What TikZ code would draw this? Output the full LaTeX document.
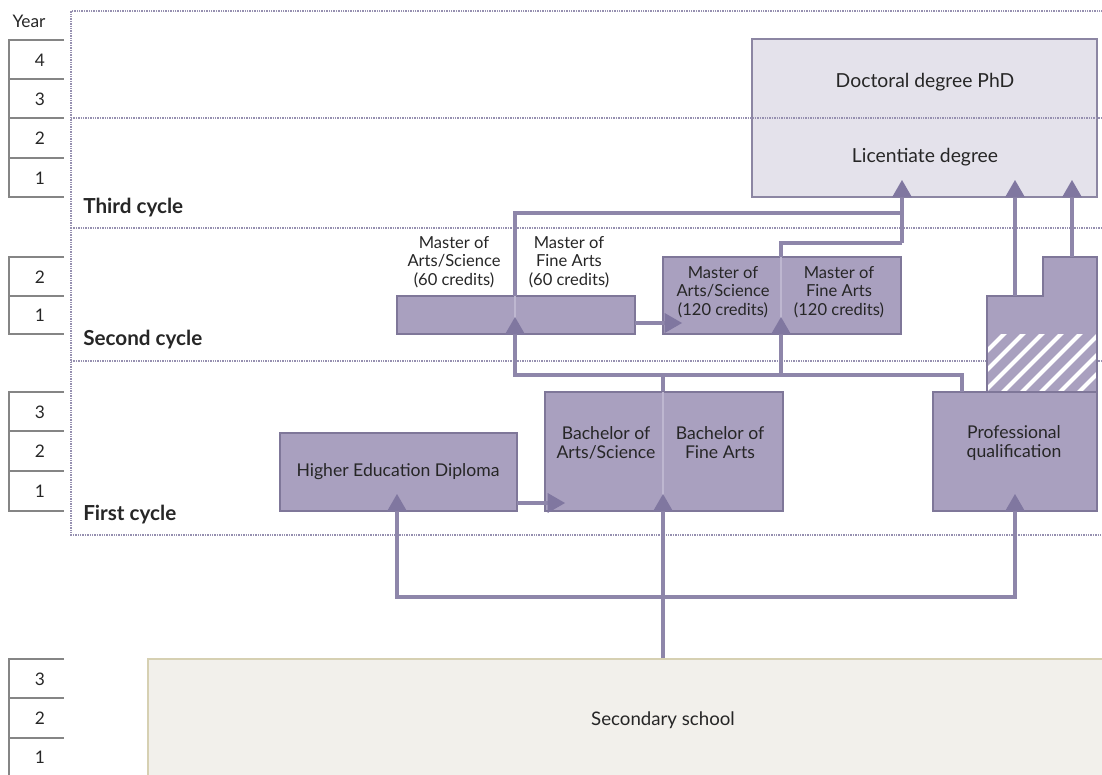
\documentclass[tikz,border=0pt]{standalone}
\usepackage{fontspec}
\setmainfont{Lato}
\usetikzlibrary{arrows.meta,fit}
\definecolor{boxfill}{HTML}{A9A0BF}
\definecolor{boxline}{HTML}{7F7799}
\definecolor{docfill}{HTML}{E4E2EB}
\definecolor{docline}{HTML}{8C86A3}
\definecolor{connc}{HTML}{8E86AA}
\definecolor{tipc}{HTML}{8077A0}
\definecolor{secfill}{HTML}{F2F0EB}
\definecolor{secline}{HTML}{D6D0B2}
\definecolor{framec}{HTML}{9690B0}
\definecolor{yearc}{HTML}{858585}
\definecolor{txt}{HTML}{262626}
\definecolor{divc}{HTML}{BEB7D0}
\tikzset{
  pbox/.style={draw=boxline, fill=boxfill, line width=1.3pt, inner sep=0pt},
  dbox/.style={draw=docline, fill=docfill, line width=1.3pt, inner sep=0pt},
  sbox/.style={draw=secline, fill=secfill, line width=1.3pt, inner sep=0pt},
  lab/.style={text=txt, font=\fontsize{13.2}{14.2}\selectfont, align=center, inner sep=0pt},
  mlab/.style={lab, font=\fontsize{12.4}{13.9}\selectfont},
  cyc/.style={text=txt, font=\fontsize{15.5}{17}\selectfont\bfseries, anchor=west, inner sep=0pt},
  yr/.style={text=txt, font=\fontsize{13}{15}\selectfont, inner sep=0pt},
  cl/.style={draw=connc, line width=2.4pt},
  arr/.style={cl, -{Triangle[length=13pt,width=15pt,color=tipc,line width=0pt]}},
  dotl/.style={draw=framec, line width=1.5pt, dash pattern=on 1pt off 0.8pt},
  yline/.style={draw=yearc, line width=1.4pt},
  divl/.style={draw=divc, line width=0.8pt}
}
\begin{document}
\begin{tikzpicture}[x=0.75pt,y=-0.75pt]
\useasboundingbox (0,0) rectangle (1102,774);
\clip (0,0) rectangle (1102,774);

% year columns
\node[yr] (year) at (29,21) {Year};
\draw[yline] (64,40) -- (9,40) -- (9,197) -- (64,197);
\foreach \y in {79,118,158} \draw[yline] (9,\y) -- (64,\y);
\node[yr] (y4) at (40,60) {4};
\node[yr] (y3) at (40,99) {3};
\node[yr] (y2) at (40,138) {2};
\node[yr] (y1) at (40,178) {1};
\draw[yline] (64,257) -- (9,257) -- (9,334) -- (64,334);
\draw[yline] (9,296) -- (64,296);
\node[yr] (s2) at (40,277) {2};
\node[yr] (s1) at (40,315) {1};
\draw[yline] (64,392) -- (9,392) -- (9,511) -- (64,511);
\foreach \y in {431,471} \draw[yline] (9,\y) -- (64,\y);
\node[yr] (f3) at (40,412) {3};
\node[yr] (f2) at (40,451) {2};
\node[yr] (f1) at (40,491) {1};
\draw[yline] (64,659) -- (9,659) -- (9,790);
\foreach \y in {698,738} \draw[yline] (9,\y) -- (64,\y);
\node[yr] (h3) at (40,679) {3};
\node[yr] (h2) at (40,718) {2};
\node[yr] (h1) at (40,757) {1};

% doctoral box
\node[dbox, fit={(752,39)(1097,197)}] (doc) {};
\node[lab, font=\fontsize{14.5}{16}\selectfont] (phd) at (925,82) {Doctoral degree PhD};
\node[lab, font=\fontsize{14.5}{16}\selectfont] (lic) at (925,157) {Licentiate degree};

% frame
\draw[dotl] (1110,11) -- (71,11) -- (71,535) -- (1110,535);
\foreach \y in {118,228,361} \draw[dotl] (71,\y) -- (1110,\y);

\node[cyc] (third) at (83,208) {Third cycle};
\node[cyc] (second) at (83,340) {Second cycle};
\node[cyc] (first) at (83,515) {First cycle};

% secondary school
\node[sbox, fit={(148,659)(1115,790)}] (sec) {};
\node[lab, font=\fontsize{14}{16}\selectfont] (sectxt) at (663,720) {Secondary school};

% first cycle boxes
\node[pbox, fit={(280,433)(517,511)}] (hed) {};
\node[lab] (hedtxt) at (398,472) {Higher Education Diploma};
\node[pbox, fit={(545,392)(783,511)}] (bach) {};
\draw[divl] (663,392) -- (663,511);
\node[lab] (bas) at (606,443) {Bachelor of\\Arts/Science};
\node[lab] (bfa) at (720,443) {Bachelor of\\Fine Arts};

% professional qualification
\fill[boxfill] (987,392) -- (987,296) -- (1043,296) -- (1043,257) -- (1097,257) -- (1097,392) -- cycle;
\begin{scope}
\clip (987,334) rectangle (1097,390);
\foreach \i in {0,...,11} \draw[white, line width=3pt] ({925+19*\i},394) -- ({925+19*\i+64},330);
\end{scope}
\draw[draw=boxline, line width=1.3pt] (987,392) -- (987,296) -- (1043,296) -- (1043,257) -- (1097,257) -- (1097,392);
\node[pbox, fit={(933,392)(1097,511)}] (prof) {};
\node[lab] (proftxt) at (1014,443) {Professional\\qualification};

% second cycle boxes
\node[pbox, fit={(397,296)(635,334)}] (m60) {};
\draw[divl] (515,296) -- (515,334);
\node[mlab] (m60as) at (454,262) {Master of\\Arts/Science\\(60 credits)};
\node[mlab] (m60fa) at (569,262) {Master of\\Fine Arts\\(60 credits)};
\node[pbox, fit={(663,257)(901,334)}] (m120) {};
\draw[divl] (781,257) -- (781,334);
\node[mlab] (m120as) at (723,292) {Master of\\Arts/Science\\(120 credits)};
\node[mlab] (m120fa) at (839,292) {Master of\\Fine Arts\\(120 credits)};

% junction coordinates
\coordinate (sj) at (663,597);
\coordinate (bj) at (663,375);
\coordinate (tj) at (902,213);
\coordinate (mj) at (902,243);

% connectors
\draw[cl] (sec.north -| sj) -- (sj);
\draw[arr] (sj) -- (663,494);
\draw[arr] (sj) -| (397,494);
\draw[arr] (sj) -| (1015,494);
\draw[arr] (517,503) -- (565,503);
\draw[cl] (bach.north -| bj) -- (bj);
\draw[cl] (bj) -| (962,392);
\draw[arr] (bj) -| (515,317);
\draw[arr] (bj) -| (781,317);
\draw[arr] (635,323) -- (682,323);
\draw[cl] (515,296) |- (tj);
\draw[cl] (781,257) |- (mj);
\draw[arr] (mj) -- (tj) -- (902,180);
\draw[arr] (1015,296) -- (1015,180);
\draw[arr] (1072,257) -- (1072,180);
\end{tikzpicture}
\end{document}
